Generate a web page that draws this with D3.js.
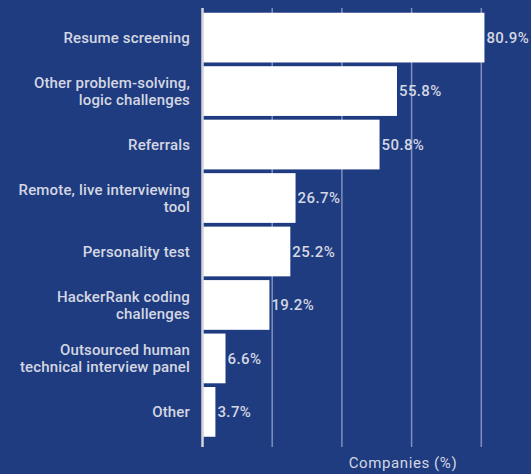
<!DOCTYPE html>
<html><head><meta charset="utf-8">
<script src="https://cdn.jsdelivr.net/npm/d3@7"></script>
<style>
html,body{margin:0;padding:0;background:#1f3c80;}
svg{display:block;}
</style></head>
<body>
<script>
const categories = [
  ["Resume screening"],
  ["Other problem-solving,", "logic challenges"],
  ["Referrals"],
  ["Remote, live interviewing", "tool"],
  ["Personality test"],
  ["HackerRank coding", "challenges"],
  ["Outsourced human", "technical interview panel"],
  ["Other"]
];
const values = [80.9, 55.8, 50.8, 26.7, 25.2, 19.2, 6.6, 3.7];
const gridTicks = [20, 40, 60, 80];
const axisTitle = "Companies (%)";

const W = 531, H = 474;
const svg = d3.select("body").append("svg").attr("width", W).attr("height", H);
svg.append("rect").attr("width", W).attr("height", H).attr("fill", "#1f3c80");

const x = d3.scaleLinear().domain([0, 100]).range([202.5, 551]);
const y = d3.scaleBand().domain(d3.range(values.length)).range([9, 440.5]).paddingInner(0.07).paddingOuter(0.07);
const plotTop = 8, plotBottom = 447;

svg.selectAll("line.grid").data(gridTicks).enter().append("line")
  .attr("class", "grid")
  .attr("x1", d => x(d)).attr("x2", d => x(d))
  .attr("y1", plotTop).attr("y2", plotBottom)
  .attr("stroke", "#7f8fbe").attr("stroke-width", 1.5);

svg.selectAll("rect.bar").data(values).enter().append("rect")
  .attr("class", "bar")
  .attr("x", x(0)).attr("y", (d, i) => y(i))
  .attr("width", d => x(d) - x(0)).attr("height", y.bandwidth())
  .attr("fill", "#ffffff");

svg.append("line")
  .attr("x1", x(0)).attr("x2", x(0)).attr("y1", plotTop).attr("y2", plotBottom)
  .attr("stroke", "#d4d4d8").attr("stroke-width", 2.5);

const txtColor = "#d4d7e2";
svg.selectAll("text.val").data(values).enter().append("text")
  .attr("class", "val")
  .attr("x", d => x(d) + 2)
  .attr("y", (d, i) => y(i) + y.bandwidth() / 2)
  .attr("dy", "0.35em")
  .attr("fill", txtColor)
  .attr("font-family", "Roboto")
  .attr("font-weight", 500)
  .attr("font-size", 15)
  .attr("letter-spacing", 0.4)
  .text(d => d.toFixed(1) + "%");

const lbl = svg.selectAll("text.cat").data(categories).enter().append("text")
  .attr("class", "cat")
  .attr("text-anchor", "end")
  .attr("fill", txtColor)
  .attr("font-family", "Roboto")
  .attr("font-weight", 500)
  .attr("font-size", 15)
  .attr("letter-spacing", 0.15);
lbl.each(function(lines, i) {
  const cy = y(i) + y.bandwidth() / 2;
  const lh = 17.3;
  const start = cy - (lines.length - 1) * lh / 2;
  d3.select(this).selectAll("tspan").data(lines).enter().append("tspan")
    .attr("x", 190)
    .attr("y", (d, j) => start + j * lh)
    .attr("dy", "0.35em")
    .text(d => d);
});

svg.append("text")
  .attr("x", 403).attr("y", 468)
  .attr("text-anchor", "middle")
  .attr("fill", txtColor)
  .attr("font-family", "Roboto")
  .attr("font-size", 15)
  .attr("letter-spacing", 0.6)
  .text(axisTitle);
</script>
</body></html>
